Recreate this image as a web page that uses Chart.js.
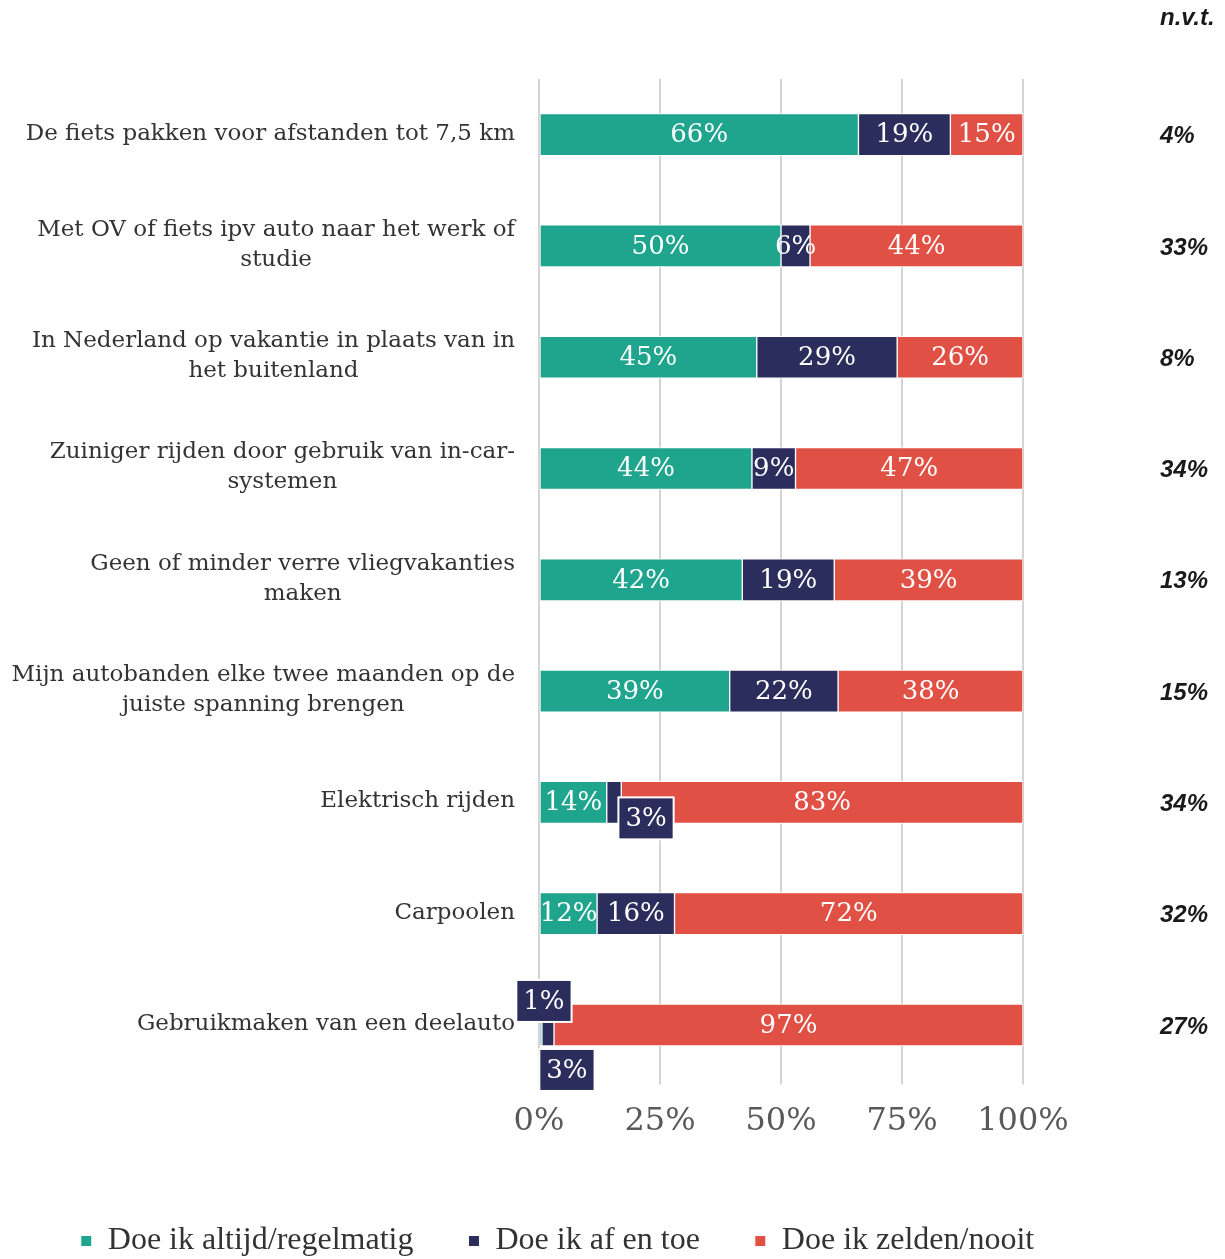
<!DOCTYPE html>
<html>
<head>
<meta charset="utf-8">
<script src="https://cdn.jsdelivr.net/npm/chart.js@4.4.1/dist/chart.umd.min.js"></script>
<style>
  html, body { margin: 0; padding: 0; background: #fff; }
  #wrap { width: 1225px; height: 1259px; position: relative; }
</style>
</head>
<body>
<div id="wrap"><canvas id="chart" width="1225" height="1259"></canvas></div>
<script>
// Categories (multi-line labels as arrays)
const categories = [
    ['De fiets pakken voor afstanden tot 7,5 km'],
    ['Met OV of fiets ipv auto naar het werk of', 'studie'],
    ['In Nederland op vakantie in plaats van in', 'het buitenland'],
    ['Zuiniger rijden door gebruik van in-car-', 'systemen'],
    ['Geen of minder verre vliegvakanties', 'maken'],
    ['Mijn autobanden elke twee maanden op de', 'juiste spanning brengen'],
    ['Elektrisch rijden'],
    ['Carpoolen'],
    ['Gebruikmaken van een deelauto']
];

// shares in %, labels are the rounded values
const altijd = [66, 50, 45, 44, 42, 39.4, 14, 12, 0.6];
const afEnToe = [19, 6, 29, 9, 19, 22.4, 3, 16, 2.5];
const zelden = [15, 44, 26, 47, 39, 38.2, 83, 72, 96.9];
const nvt = [4, 33, 8, 34, 13, 15, 34, 32, 27];

const xTicks = [0, 25, 50, 75, 100];

const colors = {
    altijd: '#1fa58d',
    afEnToe: '#2b2d5c',
    zelden: '#e05045'
};

const serif = '"DejaVu Serif", serif';

// labels that do not fit in their segment get a navy box next to the bar
// key = dataset-index
const smallLabels = {
    '1-6': { dx: 32, dy: 16 },
    '0-8': { dx: 3, dy: -24 },
    '1-8': { dx: 19, dy: 45 }
};

const labelPlugin = {
    id: 'segmentLabels',
    afterDatasetsDraw(chart) {
        const ctx = chart.ctx;
        ctx.save();
        ctx.font = '26px ' + serif;
        ctx.textAlign = 'center';
        ctx.textBaseline = 'middle';
        chart.data.datasets.forEach((ds, di) => {
            const meta = chart.getDatasetMeta(di);
            meta.data.forEach((bar, i) => {
                const text = Math.round(ds.data[i]) + '%';
                const p = smallLabels[di + '-' + i];
                if (p) {
                    const w = ctx.measureText(text).width + 14;
                    const h = 42;
                    const cx = (bar.x + bar.base) / 2 + p.dx;
                    const cy = bar.y + p.dy;
                    ctx.fillStyle = colors.afEnToe;
                    ctx.strokeStyle = '#fff';
                    ctx.lineWidth = 2;
                    ctx.fillRect(cx - w / 2, cy - h / 2, w, h);
                    ctx.strokeRect(cx - w / 2, cy - h / 2, w, h);
                    ctx.fillStyle = '#fff';
                    ctx.fillText(text, cx, cy + 1);
                } else {
                    ctx.fillStyle = '#fff';
                    ctx.fillText(text, (bar.x + bar.base) / 2, bar.y + 1);
                }
            });
        });

        // category labels: block right-aligned, lines centred within the block
        const y = chart.scales.y;
        ctx.font = '23px ' + serif;
        ctx.fillStyle = '#333';
        categories.forEach((lines, i) => {
            const maxW = Math.max(...lines.map(l => ctx.measureText(l).width));
            const cx = 515 - maxW / 2;
            const cy = y.getPixelForValue(i) - 1;
            lines.forEach((l, k) => {
                ctx.fillText(l, cx, cy + (k - (lines.length - 1) / 2) * 30);
            });
        });

        // n.v.t. column
        ctx.fillStyle = '#1a1a1a';
        ctx.textAlign = 'left';
        ctx.font = 'italic bold 24px "Liberation Sans", Arial, sans-serif';
        ctx.fillText('n.v.t.', 1160, 18);
        nvt.forEach((v, i) => {
            ctx.fillText(v + '%', 1160, y.getPixelForValue(i) + 2);
        });
        ctx.restore();
    }
};

const ctx = document.getElementById('chart');
new Chart(ctx, {
    type: 'bar',
    data: {
        labels: categories,
        datasets: [
            { label: 'Doe ik altijd/regelmatig', data: altijd, backgroundColor: colors.altijd },
            { label: 'Doe ik af en toe', data: afEnToe, backgroundColor: colors.afEnToe },
            { label: 'Doe ik zelden/nooit', data: zelden, backgroundColor: colors.zelden }
        ]
    },
    options: {
        responsive: false,
        animation: false,
        indexAxis: 'y',
        layout: { padding: { left: 0, right: 110, top: 79, bottom: -8 } },
        datasets: {
            bar: {
                barThickness: 42,
                borderColor: '#fff',
                borderWidth: 1,
                borderSkipped: false
            }
        },
        scales: {
            x: {
                stacked: true,
                min: 0,
                max: 100,
                afterBuildTicks: (scale) => { scale.ticks = xTicks.map(v => ({ value: v })); },
                afterFit: (scale) => { scale.height += 11; },
                ticks: {
                    callback: (v) => v + '%',
                    color: '#595959',
                    font: { family: serif, size: 32 },
                    padding: 18
                },
                grid: { color: '#d4d4d4', lineWidth: 2, tickLength: 4, drawTicks: true },
                border: { display: false }
            },
            y: {
                stacked: true,
                afterFit: (scale) => { scale.width = 539; },
                ticks: { display: false },
                grid: { display: false },
                border: { display: false }
            },
            // empty right-hand axis that reserves room for the n.v.t. column
            nvtAxis: {
                type: 'category',
                position: 'right',
                afterFit: (scale) => { scale.width = 92; },
                ticks: { display: false },
                grid: { display: false },
                border: { display: false }
            }
        },
        plugins: {
            legend: {
                position: 'bottom',
                labels: {
                    boxWidth: 11,
                    boxHeight: 11,
                    padding: 55,
                    color: '#333',
                    font: { family: '"Liberation Serif", serif', size: 32 }
                }
            },
            tooltip: { enabled: false }
        }
    },
    plugins: [labelPlugin]
});
</script>
</body>
</html>
